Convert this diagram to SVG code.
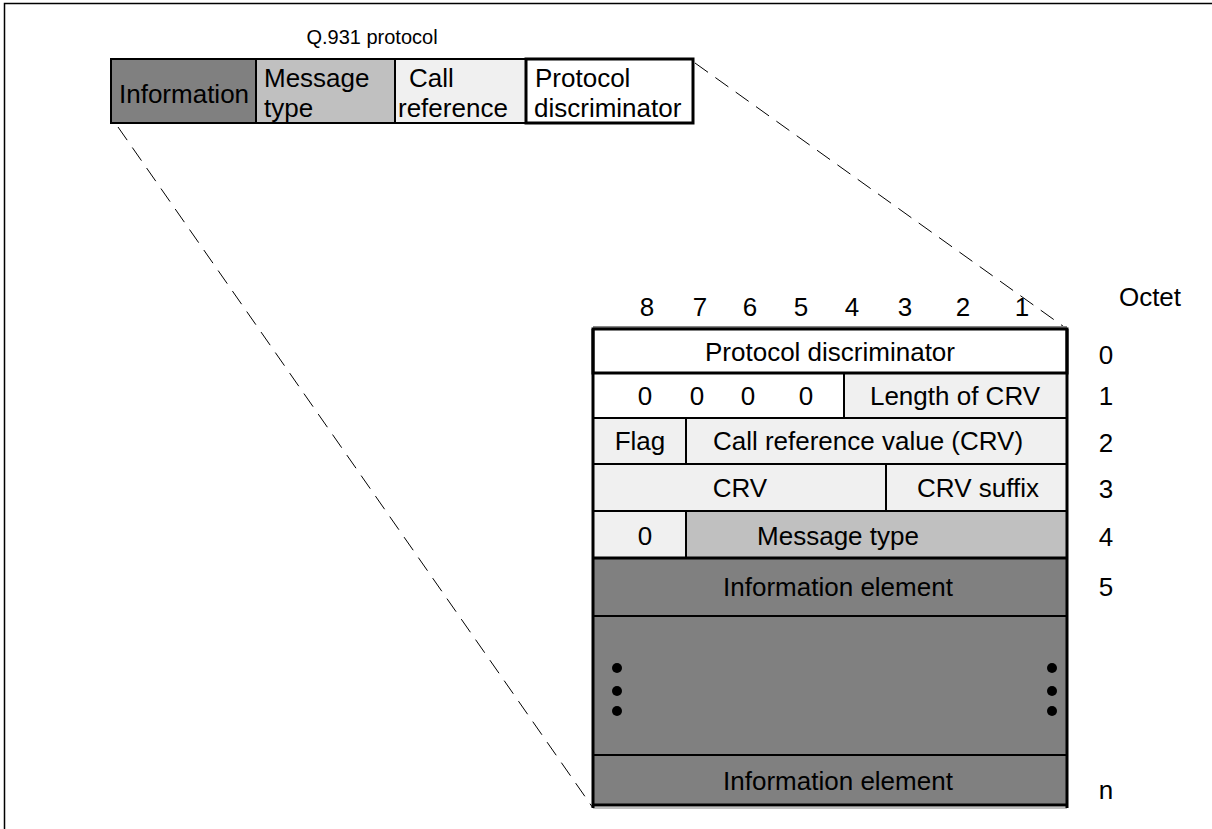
<svg xmlns="http://www.w3.org/2000/svg" width="1212" height="829" viewBox="0 0 1212 829">
<style>
text{font-family:"Liberation Sans",Arial,sans-serif;font-size:26px;fill:#000}
.c{text-anchor:middle}
.s{font-size:20px}
.cell{stroke:#000;stroke-width:2}
.thick{stroke:#000;stroke-width:3}
.dash{stroke:#000;stroke-width:1;stroke-dasharray:16,9;fill:none}
.dk{fill:#808080}.md{fill:#c0c0c0}.lt{fill:#f0f0f0}.wh{fill:#fff}
</style>
<rect width="1212" height="829" fill="#fff"/>
<path d="M4.5,829 V3.5 H1212" fill="none" stroke="#000" stroke-width="1.5"/>
<g id="connectors">
<line class="dash" x1="118" y1="127" x2="593" y2="808"/>
<line class="dash" x1="695" y1="63" x2="1067" y2="329"/>
</g>
<g id="q931">
<text class="c s" x="372" y="44">Q.931 protocol</text>
<rect class="cell dk" x="111" y="59" width="145" height="64"/>
<rect class="cell md" x="256" y="59" width="139" height="64"/>
<rect class="cell lt" x="395" y="59" width="131" height="64"/>
<rect class="thick wh" x="526" y="59" width="167" height="64"/>
<text x="119" y="103">Information</text>
<text x="264" y="87">Message</text>
<text x="264" y="117">type</text>
<text x="409" y="87">Call</text>
<text x="398" y="117">reference</text>
<text x="535" y="87">Protocol</text>
<text x="534" y="117">discriminator</text>
</g>
<g id="bits">
<text class="c" x="647" y="316">8</text>
<text class="c" x="700" y="316">7</text>
<text class="c" x="750" y="316">6</text>
<text class="c" x="801" y="316">5</text>
<text class="c" x="852" y="316">4</text>
<text class="c" x="905" y="316">3</text>
<text class="c" x="963" y="316">2</text>
<text class="c" x="1022" y="316">1</text>
<text class="c" x="1150" y="306">Octet</text>
</g>
<g id="octets">
<text class="c" x="1106" y="364">0</text>
<text class="c" x="1106" y="405">1</text>
<text class="c" x="1106" y="452">2</text>
<text class="c" x="1106" y="498">3</text>
<text class="c" x="1106" y="546">4</text>
<text class="c" x="1106" y="596">5</text>
<text class="c" x="1106" y="799">n</text>
</g>
<g id="table">
<line x1="593" y1="327" x2="1067" y2="327" stroke="#888" stroke-width="2"/>
<rect class="cell dk" x="593" y="558" width="474" height="58"/>
<rect class="cell dk" x="593" y="616" width="474" height="139"/>
<rect class="cell dk" x="593" y="755" width="474" height="50"/>
<rect class="cell lt" x="593" y="511" width="93" height="47"/>
<rect class="cell md" x="686" y="511" width="381" height="47"/>
<rect class="cell lt" x="593" y="464" width="293" height="47"/>
<rect class="cell lt" x="886" y="464" width="181" height="47"/>
<rect class="cell lt" x="593" y="418" width="93" height="46"/>
<rect class="cell lt" x="686" y="418" width="381" height="46"/>
<rect class="cell wh" x="593" y="373" width="251" height="45"/>
<rect class="cell lt" x="844" y="373" width="223" height="45"/>
<rect class="thick wh" x="593" y="329" width="474" height="44"/>
<line x1="593" y1="558" x2="1067" y2="558" stroke="#000" stroke-width="3"/>
<line x1="593" y1="808" x2="1067" y2="808" stroke="#aaa" stroke-width="1.5"/>
<line x1="593" y1="329" x2="593" y2="808" stroke="#000" stroke-width="3"/>
<line x1="1067" y1="329" x2="1067" y2="808" stroke="#000" stroke-width="3"/>
<line x1="593" y1="805" x2="1067" y2="805" stroke="#000" stroke-width="3"/>
<text class="c" x="830" y="361">Protocol discriminator</text>
<text class="c" x="645" y="405">0</text>
<text class="c" x="697" y="405">0</text>
<text class="c" x="748" y="405">0</text>
<text class="c" x="806" y="405">0</text>
<text class="c" x="955" y="405">Length of CRV</text>
<text class="c" x="640" y="450">Flag</text>
<text class="c" x="868" y="450">Call reference value (CRV)</text>
<text class="c" x="740" y="497">CRV</text>
<text class="c" x="978" y="497">CRV suffix</text>
<text class="c" x="645" y="545">0</text>
<text class="c" x="838" y="545">Message type</text>
<text class="c" x="838" y="596">Information element</text>
<text class="c" x="838" y="790">Information element</text>
<circle cx="617" cy="668" r="5"/>
<circle cx="617" cy="691" r="5"/>
<circle cx="617" cy="711" r="5"/>
<circle cx="1052" cy="668" r="5"/>
<circle cx="1052" cy="691" r="5"/>
<circle cx="1052" cy="711" r="5"/>
</g>
</svg>
